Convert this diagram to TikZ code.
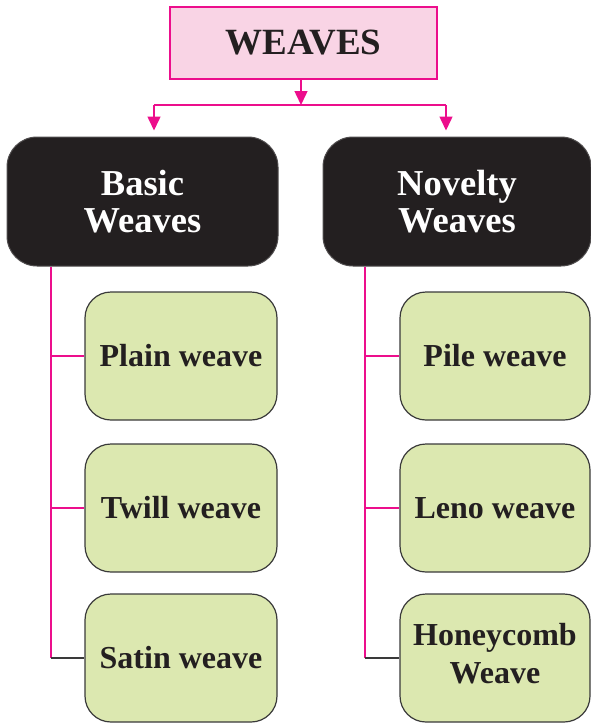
\documentclass[tikz,border=0pt]{standalone}
\usepackage{fontspec}
\setmainfont{Liberation Serif}
\usetikzlibrary{arrows.meta}
\definecolor{mag}{HTML}{EC0E8C}
\definecolor{pinkfill}{HTML}{F9D4E5}
\definecolor{leaf}{HTML}{DCE8B0}
\definecolor{ink}{HTML}{231F20}
\definecolor{rim}{HTML}{3A3A3A}
\begin{document}
\begin{tikzpicture}[x=1pt,y=-1pt,
  rootbox/.style={draw=mag,fill=pinkfill,line width=1.4pt,minimum width=267pt,
    minimum height=72pt,inner sep=0pt,text=ink,font=\fontsize{37}{40}\selectfont\bfseries},
  groupbox/.style={fill=ink,draw=ink!80,line width=1pt,rounded corners=30pt,
    minimum height=129pt,inner sep=0pt,align=center,text=white,
    font=\fontsize{36.5}{37}\selectfont\bfseries},
  leafbox/.style={fill=leaf,draw=rim,line width=1.2pt,rounded corners=26pt,
    minimum height=128pt,inner sep=0pt,align=center,text=ink,
    font=\fontsize{32}{38}\selectfont\bfseries},
  link/.style={draw=mag,line width=1.5pt},
  endlink/.style={draw=rim,line width=1.5pt},
  tiplink/.style={link,-{Triangle[width=13pt,length=14pt]}}]
\useasboundingbox (0,0) rectangle (591,723);

% top level
\node[rootbox] (weaves) at (303.5,43) {WEAVES};

% two groups
\node[groupbox,minimum width=271pt] (basic) at (142.5,201.5) {Basic\\Weaves};
\node[groupbox,minimum width=268pt] (novelty) at (457,201.5) {Novelty\\Weaves};

% basic weaves
\node[leafbox,minimum width=192pt] (plain) at (181,356) {Plain weave};
\node[leafbox,minimum width=192pt] (twill) at (181,508) {Twill weave};
\node[leafbox,minimum width=192pt] (satin) at (181,658) {Satin weave};

% novelty weaves
\node[leafbox,minimum width=190pt] (pile) at (495,356) {Pile weave};
\node[leafbox,minimum width=190pt] (leno) at (495,508) {Leno weave};
\node[leafbox,minimum width=190pt] (honey) at (495,658) {Honeycomb\\Weave\rule[-10pt]{0pt}{10pt}};

% branching arrows below the root
\coordinate (hub) at (301,105);
\coordinate (hl) at (154,105);
\coordinate (hr) at (446,105);
\draw[tiplink] (hub |- weaves.south) -- (hub);
\draw[link] (hl) -- (hr);
\draw[tiplink,shorten >=6pt] (hl) -- (hl |- basic.north);
\draw[tiplink,shorten >=6pt] (hr) -- (hr |- novelty.north);

% left trunk
\coordinate (tl) at (51,0);
\draw[link] (tl |- basic.south) -- (tl |- satin.west);
\draw[link] (tl |- plain.west) -- (plain.west);
\draw[link] (tl |- twill.west) -- (twill.west);
\draw[endlink] (tl |- satin.west) -- (satin.west);

% right trunk
\coordinate (tr) at (365,0);
\draw[link] (tr |- novelty.south) -- (tr |- honey.west);
\draw[link] (tr |- pile.west) -- (pile.west);
\draw[link] (tr |- leno.west) -- (leno.west);
\draw[endlink] (tr |- honey.west) -- (honey.west);
\end{tikzpicture}
\end{document}
